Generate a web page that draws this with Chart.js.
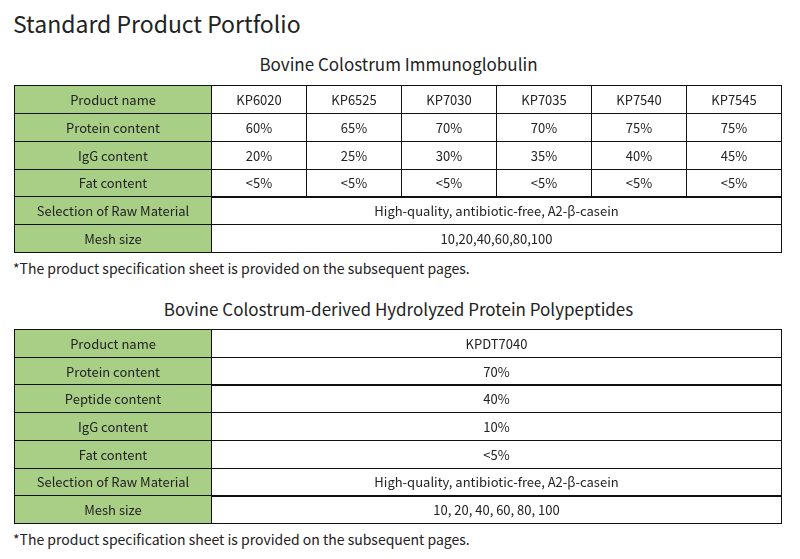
<!DOCTYPE html><html><head><meta charset="utf-8">
<script src="https://cdn.jsdelivr.net/npm/chart.js@4"></script>
<style>
body{margin:0;width:800px;height:559px;background:#fff;position:relative;font-family:"Noto Sans CJK SC","Noto Sans",sans-serif;color:#222;overflow:hidden}
.t{position:absolute;white-space:nowrap}
.box{position:absolute}
</style></head><body>
<div class="t" style="left:13px;top:6px;font-size:23px">Standard Product Portfolio</div>
<div class="t" style="left:0;width:797px;text-align:center;top:51px;font-size:17px">Bovine Colostrum Immunoglobulin</div>
<div class="box" style="left:13px;top:84px;width:770px;height:170px"><canvas id="c1"></canvas></div>
<div class="t" style="left:13px;top:258px;font-size:14px">*The product specification sheet is provided on the subsequent pages.</div>
<div class="t" style="left:0;width:797px;text-align:center;top:296px;font-size:17px">Bovine Colostrum-derived Hydrolyzed Protein Polypeptides</div>
<div class="box" style="left:13px;top:328px;width:770px;height:197px"><canvas id="c2"></canvas></div>
<div class="t" style="left:13px;top:529px;font-size:14px">*The product specification sheet is provided on the subsequent pages.</div>
<script>
const rows1 = ["Product name","Protein content","IgG content","Fat content","Selection of Raw Material","Mesh size"];
const products1 = ["KP6020","KP6525","KP7030","KP7035","KP7540","KP7545"];
const protein1 = ["60%","65%","70%","70%","75%","75%"];
const igg1 = ["20%","25%","30%","35%","40%","45%"];
const fat1 = ["<5%","<5%","<5%","<5%","<5%","<5%"];
const raw1 = ["High-quality, antibiotic-free, A2-β-casein"];
const mesh1 = ["10,20,40,60,80,100"];
const values1 = [products1, protein1, igg1, fat1, raw1, mesh1];

const rows2 = ["Product name","Protein content","Peptide content","IgG content","Fat content","Selection of Raw Material","Mesh size"];
const values2 = [["KPDT7040"],["70%"],["40%"],["10%"],["<5%"],["High-quality, antibiotic-free, A2-β-casein"],["10, 20, 40, 60, 80, 100"]];

const LABEL_W = 2.08, NCOL = 6;
const tablePlugin = {
  id:'table',
  afterDraw(chart){
    const ctx = chart.ctx, xs = chart.scales.x, ys = chart.scales.y;
    const labels = chart.data.labels, vals = chart.options.plugins.table.values;
    const half = (ys.getPixelForValue(1)-ys.getPixelForValue(0))/2;
    ctx.save();
    ctx.font = '13px "Noto Sans CJK SC","Noto Sans",sans-serif';
    ctx.textAlign='center'; ctx.textBaseline='middle';
    ctx.lineWidth=1; ctx.strokeStyle='#111';
    labels.forEach((lab,i)=>{
      const yc = ys.getPixelForValue(i), y0=Math.round(yc-half)+0.5, h=Math.round(2*half);
      const x0 = Math.round(xs.getPixelForValue(0))+0.5, x1=Math.round(xs.getPixelForValue(LABEL_W))+0.5;
      ctx.fillStyle='#a9cf86'; ctx.fillRect(x0,y0,x1-x0,h);
      ctx.strokeRect(x0,y0,x1-x0,h);
      ctx.fillStyle='#222'; ctx.fillText(lab,(x0+x1)/2,yc+1);
      const v = vals[i], w = NCOL/v.length;
      v.forEach((t,j)=>{
        const a=Math.round(xs.getPixelForValue(LABEL_W+j*w))+0.5, b=Math.round(xs.getPixelForValue(LABEL_W+(j+1)*w))+0.5;
        ctx.strokeRect(a,y0,b-a,h);
        ctx.fillText(t,(a+b)/2,yc+1);
      });
    });
    ctx.restore();
  }
};
function make(id, rows, vals){
  new Chart(document.getElementById(id),{
    type:'scatter',
    data:{labels:rows,datasets:[{data:[]}]},
    options:{responsive:true,maintainAspectRatio:false,animation:false,
      layout:{padding:{left:1,right:2,top:1,bottom:2}},
      plugins:{legend:{display:false},tooltip:{enabled:false},table:{values:vals}},
      scales:{x:{type:'linear',min:0,max:LABEL_W+NCOL,display:false},
              y:{type:'category',labels:rows,offset:true,display:false}}},
    plugins:[tablePlugin]
  });
}
make('c1',rows1,values1);
make('c2',rows2,values2);
</script></body></html>
